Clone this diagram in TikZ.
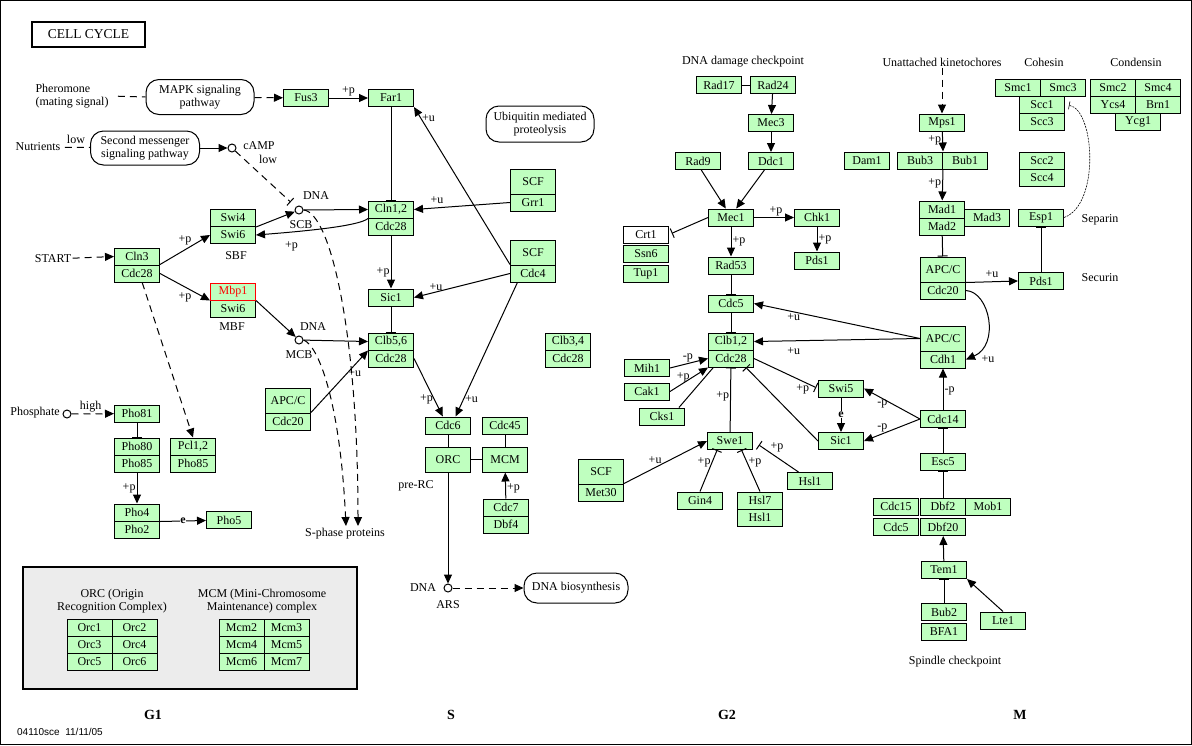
\documentclass[tikz,border=0pt]{standalone}
\usepackage{fontspec}
\setmainfont{Liberation Serif}
\setsansfont{Liberation Sans}
\usetikzlibrary{arrows.meta}
\definecolor{keggreen}{RGB}{191,255,191}
\definecolor{legendgray}{RGB}{236,236,236}
\newcommand{\keggfont}{\fontsize{12}{13}\selectfont}

\begin{document}
\begin{tikzpicture}[x=1pt, y=-1pt, line width=1pt,
    gene/.style={draw, fill=keggreen, minimum width=45pt, minimum height=17pt, inner sep=0pt, font=\keggfont},
    tallgene/.style={gene, minimum height=25pt},
    pathbox/.style={draw, rounded corners=13pt, align=center, font=\keggfont, inner sep=0pt},
    cpd/.style={circle, draw, fill=white, minimum size=8pt, inner sep=0pt},
    txt/.style={font=\keggfont, align=center, inner sep=1pt},
    lbl/.style={font=\keggfont, inner sep=1pt},
    phaselbl/.style={font=\fontsize{14}{16}\selectfont\bfseries},
    act/.style={-{Triangle[length=9pt, width=8pt]}},
    inh/.style={-{Bar[width=10pt]}},
    dsh/.style={dash pattern=on 7pt off 5pt}]
    \useasboundingbox (0,0) rectangle (1192,745);
    \draw[line width=1pt] (0.5,0.5) rectangle (1191.5,744.5);
    \node[draw, line width=2pt, minimum width=113pt, minimum height=25pt, font=\fontsize{13.5}{15}\selectfont] (title) at (88.5,34.5) {CELL CYCLE};

    \node[draw, line width=2pt, fill=legendgray, minimum width=334pt, minimum height=122pt, inner sep=0pt] (legend) at (190,628) {};
    \node[txt] (orctxt) at (112,601) {ORC (Origin\\Recognition Complex)};
    \node[txt] (mcmtxt) at (262,601) {MCM (Mini-Chromosome\\Maintenance) complex};
    \foreach \a/\b [count=\i] in {1/2,3/4,5/6} {
        \node[gene] (orc\a) at (89.5,{610.5+17*\i}) {Orc\a};
        \node[gene] (orc\b) at (134.5,{610.5+17*\i}) {Orc\b};
    }
    \foreach \a/\b [count=\i] in {2/3,4/5,6/7} {
        \node[gene] (mcm\a) at (241.5,{610.5+17*\i}) {Mcm\a};
        \node[gene] (mcm\b) at (286.5,{610.5+17*\i}) {Mcm\b};
    }

    \foreach \n/\x/\y/\t in {
        fus3/306/98/Fus3, far1/391/98/Far1, swi4/233/218/Swi4, swi6a/233/235/Swi6,
        cln3/137/256.5/Cln3, cdc28a/137/273.5/Cdc28, swi6b/233/308.5/Swi6,
        cdc28b/391/226.5/Cdc28, grr1/533/202.5/Grr1, cdc4/533/273.5/Cdc4,
        sic1/391/297.5/Sic1, cdc28c/391/358.5/Cdc28, cdc28d/568/358.5/Cdc28,
        cdc20a/288/421.5/Cdc20, pho81/137/413.5/Pho81, pho80/137/446.5/Pho80,
        pho85a/137/463.5/Pho85, pho85b/193/463.5/Pho85, pho4/137/512.5/Pho4,
        pho2/137/529.5/Pho2, pho5/229/520/Pho5, cdc6/448/425.5/Cdc6,
        cdc45/505/425.5/Cdc45, cdc7/506/507.5/Cdc7, dbf4/506/524.5/Dbf4,
        met30/601/492.5/Met30, rad17/719/85/Rad17, rad24/773/85/Rad24,
        mec3/771/123/Mec3, ddc1/771/161/Ddc1, rad9/698/161/Rad9, dam1/867/161/Dam1,
        mec1/731/217.5/Mec1, chk1/817/217.5/Chk1, pds1a/817/260.5/Pds1,
        rad53/731/265.5/Rad53, ssn6/646/254/Ssn6, tup1/646/274/Tup1,
        cdc5a/731/303.5/Cdc5, cdc28e/731/358.5/Cdc28, mih1/647/368/Mih1,
        cak1/647/391.5/Cak1, cks1/662/416.5/Cks1, swe1/730/441/Swe1,
        gin4/700/500.5/Gin4, hsl7/760/500.5/Hsl7, hsl1a/760/517.5/Hsl1,
        hsl1b/810/481/Hsl1, swi5/841/388.5/Swi5, sic1b/841/441/Sic1,
        cdh1/943/359.5/Cdh1, cdc14/943/419/Cdc14, esc5/943/462/Esc5,
        cdc15/896/506.5/Cdc15, cdc5b/896/527/Cdc5, dbf2/943/506.5/Dbf2,
        dbf20/943/527/Dbf20, mob1/988/506.5/Mob1, tem1/944/570/Tem1,
        bub2/944/612/Bub2, bfa1/944/632/BFA1, lte1/1003/620.5/Lte1,
        mps1/942/122.5/Mps1, bub3/920/160.5/Bub3, bub1/965/160.5/Bub1,
        mad1/942/209.5/Mad1, mad2/942/226.5/Mad2, mad3/987/217.5/Mad3,
        cdc20b/943/290.5/Cdc20, pds1b/1041/281/Pds1, esp1/1041/217.5/Esp1,
        smc1/1018/87.5/Smc1, smc3/1063/87.5/Smc3, scc1/1042/104.5/Scc1,
        scc3/1042/121.5/Scc3, scc2/1042/160.5/Scc2, scc4/1042/177.5/Scc4,
        smc2/1113/87.5/Smc2, smc4/1158/87.5/Smc4, ycs4/1113/104.5/Ycs4,
        brn1/1158/104.5/Brn1, ycg1/1138/121.5/Ycg1}
        \node[gene] (\n) at (\x,\y) {\t};
    \foreach \n/\x/\y/\t in {scf1/533/181.5/SCF, scf2/533/252.5/SCF, orc/448/459.5/ORC,
        mcm/505/459.5/MCM, scf3/601/471.5/SCF}
        \node[tallgene] (\n) at (\x,\y) {\t};
    \node[tallgene] (apc1) at (288,400.5) {APC/C};
    \node[tallgene] (apc2) at (943,269.5) {APC/C};
    \node[tallgene] (apc3) at (943,338.5) {APC/C};
    \node[gene] (cln12) at (391,209.5) {Cln1,2};
    \node[gene] (clb56) at (391,341.5) {Clb5,6};
    \node[gene] (clb34) at (568,341.5) {Clb3,4};
    \node[gene] (clb12) at (731,341.5) {Clb1,2};
    \node[gene] (pcl12) at (193,446.5) {Pcl1,2};
    \node[gene, draw=red, text=red] (mbp1) at (233,291.5) {Mbp1};
    \node[gene, fill=white] (crt1) at (646,234.5) {Crt1};

    \node[txt, align=left] (pher) at (72,96) {Pheromone\\(mating signal)};
    \node[pathbox, minimum width=108pt, minimum height=35pt] (mapk) at (200,97) {MAPK signaling\\pathway};
    \node[txt] (nutr) at (38,147) {Nutrients};
    \node[pathbox, minimum width=109pt, minimum height=34pt] (secm) at (145,148) {Second messenger\\signaling pathway};
    \node[pathbox, minimum width=108pt, minimum height=36pt] (ubq) at (540,124) {Ubiquitin mediated\\proteolysis};
    \node[pathbox, minimum width=104pt, minimum height=30pt] (dnabio) at (576,588) {DNA biosynthesis};
    \node[txt] (start) at (53,259) {START};
    \node[txt] (phos) at (35,413) {Phosphate};
    \node[txt] (sphase) at (345,534) {S-phase proteins};

    \node[cpd] (camp) at (232,148) {};
    \node[cpd] (scb) at (299,210) {};
    \node[cpd] (mcb) at (299,340) {};
    \node[cpd] (pi) at (67,414) {};
    \node[cpd] (ars) at (448,588) {};
    \node[txt] (camplbl) at (259,146) {cAMP};
    \node[txt] (camplow) at (268,159) {low};
    \node[txt] (scbdna) at (316,196) {DNA};
    \node[txt] (scblbl) at (301,225) {SCB};
    \node[txt] (mcbdna) at (313,327) {DNA};
    \node[txt] (mcblbl) at (299,355) {MCB};
    \node[txt] (arsdna) at (423,588) {DNA};
    \node[txt] (arslbl) at (448,605) {ARS};
    \node[txt] (sbf) at (236,256) {SBF};
    \node[txt] (mbf) at (232,327) {MBF};
    \node[txt] (prerc) at (416,486) {pre-RC};
    \node[txt] (dnadam) at (743,62) {DNA damage checkpoint};
    \node[txt] (unatt) at (942,62) {Unattached kinetochores};
    \node[txt] (cohesin) at (1044,62) {Cohesin};
    \node[txt] (condensin) at (1136,62) {Condensin};
    \node[txt] (separin) at (1100,220) {Separin};
    \node[txt] (securin) at (1100,278) {Securin};
    \node[txt] (spindle) at (955,662) {Spindle checkpoint};
    \coordinate (spa) at (346,526);
    \coordinate (spb) at (358,526);

    \draw[dsh, shorten <=8pt] (pher.east) -- (mapk.west);
    \draw[dsh, act] (mapk) -- (fus3);
    \draw[act] (fus3) -- (far1) node[lbl, midway, above] {+p};
    \draw[inh] (far1) -- (cln12);
    \draw[dsh, shorten <=3pt] (nutr) -- (secm) node[lbl, midway, above=2pt] {low};
    \draw[act] (secm) -- (camp);
    \draw[dsh, inh, shorten >=7pt] (camp) -- (scb.north west);
    \draw[act] (swi4.south east) -- (scb);
    \draw[act] (scb) -- (cln12.west);
    \draw[act] (cln12.south west) .. controls (360,225) and (320,230) .. (swi6a.east) node[lbl, pos=0.8, below=8pt] {+p};
    \draw[act] (grr1.west) -- (cln12.east) node[lbl, pos=0.76, above=3pt] {+u};
    \draw[act] (cdc4.north west) -- (far1.south east) node[lbl, pos=0.93, right] {+u};
    \draw[act] (cdc4.west) -- (sic1.east) node[lbl, pos=0.77, above] {+u};
    \draw[act] (cdc4.210) -- (cdc6.50) node[lbl, pos=0.87, right] {+u};
    \draw[act] (cdc28b) -- (sic1) node[lbl, pos=0.7, left] {+p};
    \draw[inh] (sic1) -- (clb56);
    \draw[act] (mcb) -- (clb56.west);
    \draw[act] (mbp1.south east) -- (mcb);
    \draw[act] (cdc28a.north east) -- (swi6a.west) node[lbl, midway, above=3pt] {+p};
    \draw[act] (cdc28a.east) -- (mbp1.south west) node[lbl, midway, below=4pt] {+p};
    \draw[dsh, act] (start) -- (cln3.west);
    \draw[dsh, act] (cdc28a.-60) -- (pcl12.north);
    \draw[act] (cdc20a.north east) -- (clb56.south west) node[lbl, pos=0.63, right] {+u};
    \draw[dsh, act] (scb.east) .. controls (330,212) and (358,330) .. (spb);
    \draw[dsh, act] (mcb.east) .. controls (318,345) and (340,400) .. (spa);
    \draw[act] (cdc28c.east) -- (cdc6.120) node[lbl, pos=0.71, left] {+p};
    \draw (cdc6) -- (orc);
    \draw (orc) -- (mcm);
    \draw (cdc45) -- (mcm);
    \draw[act] (cdc7) -- (mcm) node[lbl, pos=0.4, right] {+p};
    \draw[act] (orc) -- (ars);
    \draw[dsh, act] (ars) -- (dnabio);
    \draw[dsh, act] (pi) -- (pho81) node[lbl, pos=0.45, above] {high};
    \draw[inh] (pho81) -- (pho80);
    \draw[act] (pho85a) -- (pho4) node[lbl, midway, left] {+p};
    \draw[act] (pho4.south east) -- (pho5) node[lbl, midway, fill=white, inner sep=0.5pt, font=\keggfont\bfseries] {e};

    \draw (rad17) -- (rad24);
    \draw[act] (rad24) -- (mec3);
    \draw[act] (mec3) -- (ddc1);
    \draw[act] (ddc1) -- (mec1.60);
    \draw[act] (rad9.290) -- (mec1.120);
    \draw[act] (mec1) -- (chk1) node[lbl, pos=0.55, above] {+p};
    \draw[act] (chk1) -- (pds1a) node[lbl, midway, right] {+p};
    \draw[inh, shorten >=3pt] (mec1.west) -- (crt1.east);
    \draw[act] (mec1) -- (rad53) node[lbl, midway, right] {+p};
    \draw[inh] (rad53) -- (cdc5a);
    \draw[inh] (cdc5a) -- (clb12);
    \draw[act] (apc3.west) -- (cdc5a.east) node[lbl, pos=0.76, below] {+u};
    \draw[act] (apc3.west) -- (clb12.east) node[lbl, pos=0.76, below=5pt] {+u};
    \draw[act] (mih1.east) -- (cdc28e.west) node[lbl, pos=0.47, above] {-p};
    \draw[act] (cak1.east) -- (cdc28e.south west) node[lbl, pos=0.35, above] {+p};
    \draw (cks1.28) -- (cdc28e.207);
    \draw[inh] (swe1) -- (cdc28e) node[lbl, pos=0.55, left] {+p};
    \draw[inh] (sic1b.west) -- (cdc28e.-31);
    \draw[inh, shorten >=2pt] (cdc28e.east) -- (swi5.west) node[lbl, pos=0.76, below=2pt] {+p};
    \draw[act] (swi5) -- (sic1b) node[lbl, midway, fill=white, inner sep=0.5pt, font=\keggfont\bfseries] {e};
    \draw[act] (cdc14.west) -- (swi5.east) node[lbl, pos=0.67, below] {-p};
    \draw[act] (cdc14.west) -- (sic1b.east) node[lbl, pos=0.67, above] {-p};
    \draw[act] (cdc14) -- (cdh1) node[lbl, pos=0.45, right] {-p};
    \draw[inh] (esc5) -- (cdc14);
    \draw[inh] (dbf2) -- (esc5);
    \draw[act] (tem1) -- (dbf20);
    \draw[inh] (bub2) -- (tem1);
    \draw[act] (lte1.north) -- (tem1.south east);
    \draw[act] (met30.north east) -- (swe1.west) node[lbl, pos=0.375, above=2pt] {+u};
    \draw[inh] (gin4.north) -- (swe1.215) node[lbl, pos=0.7, left] {+p};
    \draw[inh] (hsl7.north) -- (swe1.-38) node[lbl, pos=0.7, right] {+p};
    \draw[inh, shorten >=7pt] (hsl1b.142) -- (swe1.east) node[lbl, pos=0.47, above=4pt] {+p};

    \draw[dsh, act] (unatt) -- (mps1);
    \draw[act] (mps1) -- (bub3.north east) node[lbl, pos=0.45, left] {+p};
    \draw[act] (bub3.south east) -- (mad1) node[lbl, pos=0.45, left] {+p};
    \draw[inh] (mad2) -- (apc2);
    \draw[act] (apc2.south east) -- (pds1b.west) node[lbl, midway, above=3pt] {+u};
    \draw[inh] (pds1b) -- (esp1);
    \draw[line width=0.6pt, dash pattern=on 2pt off 1pt, -{Bar[width=8pt]}, shorten >=4pt] (esp1.east) .. controls (1100,205) and (1095,110) .. (scc1.east);
    \draw[act] (cdc20b.east) .. controls (990,292) and (1000,345) .. (cdh1.east) node[lbl, pos=1, right=14pt] {+u};

    \node[phaselbl] (g1) at (153,715) {G1};
    \node[phaselbl] (sph) at (451,715) {S};
    \node[phaselbl] (g2) at (727,715) {G2};
    \node[phaselbl] (mph) at (1020,715) {M};
    \node[font=\sffamily\fontsize{10}{12}\selectfont] (stamp) at (60,732) {04110sce \ 11/11/05};
\end{tikzpicture}
\end{document}
